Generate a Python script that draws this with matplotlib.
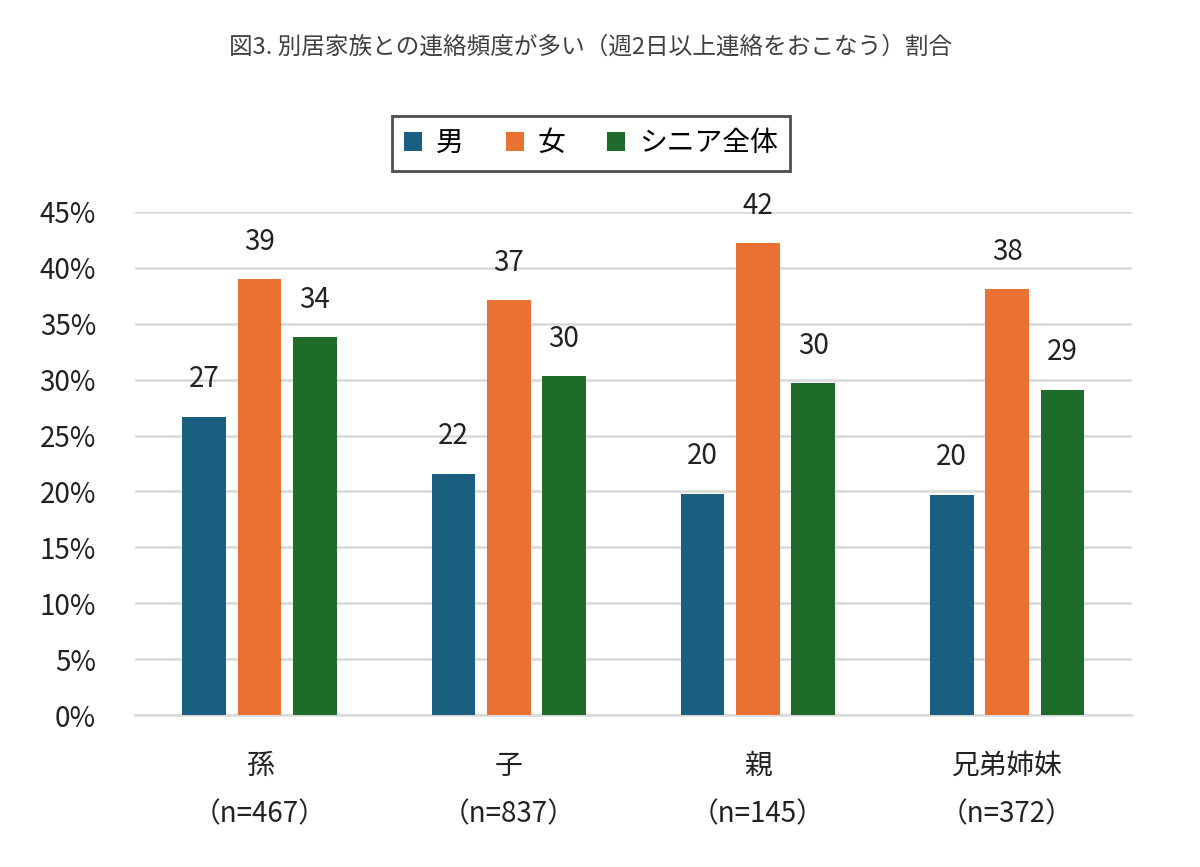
import numpy as np
import matplotlib
matplotlib.use("Agg")
import matplotlib.pyplot as plt

plt.rcParams['font.family'] = ['Noto Sans CJK JP', 'DejaVu Sans']

# data
categories = ['孫\n（n=467）', '子\n（n=837）', '親\n（n=145）', '兄弟姉妹\n（n=372）']
series_names = ['男', '女', 'シニア全体']
male = [26.7, 21.6, 19.8, 19.7]
female = [39.0, 37.1, 42.2, 38.1]
total = [33.8, 30.3, 29.7, 29.1]
colors = ['#1a5e80', '#e97132', '#1e6b2a']

fig = plt.figure(figsize=(12, 8.67), dpi=100)
ax = fig.add_axes([0.1125, 0.1753, 0.8305, 0.5802])

x = np.arange(len(categories))
w = 0.175
offs = [-0.222, 0, 0.222]
for vals, off, c, name in zip([male, female, total], offs, colors, series_names):
    bars = ax.bar(x + off, vals, width=w, color=c, label=name, zorder=3)
    for b, v in zip(bars, vals):
        ax.text(b.get_x() + b.get_width() / 2, v + 2.0, f'{v:.0f}',
                ha='center', va='bottom', fontsize=20, color='#222222', clip_on=False)

ax.set_xlim(-0.5, 3.5)
ax.set_ylim(0, 45)
ax.set_yticks(np.arange(0, 46, 5))
ax.set_yticklabels([f'{t}%' for t in range(0, 46, 5)])
ax.yaxis.grid(True, color='#d9d9d9', linewidth=1.8, zorder=0)
ax.set_axisbelow(True)
for s in ['top', 'right', 'left']:
    ax.spines[s].set_visible(False)
ax.spines['bottom'].set_color('#d9d9d9')
ax.spines['bottom'].set_linewidth(1.8)
ax.tick_params(axis='y', length=0, labelsize=20, pad=28, labelcolor='#222222')
ax.tick_params(axis='x', length=0, labelsize=20, pad=26, labelcolor='#222222')
ax.set_xticks(x)
ax.set_xticklabels(categories, linespacing=1.8)

fig.text(0.492, 0.945, '図3. 別居家族との連絡頻度が多い（週2日以上連絡をおこなう）割合',
         ha='center', va='center', fontsize=17, color='#404040')

leg = fig.legend(loc='center', bbox_to_anchor=(0.4925, 0.835), ncol=3, fontsize=20,
                 frameon=True, fancybox=False, edgecolor='#222222',
                 handlelength=0.65, handleheight=0.65, handletextpad=0.5,
                 columnspacing=1.5, borderpad=0.45)
leg.get_frame().set_linewidth(2)

fig.savefig('out.png', dpi=100, facecolor='white')
